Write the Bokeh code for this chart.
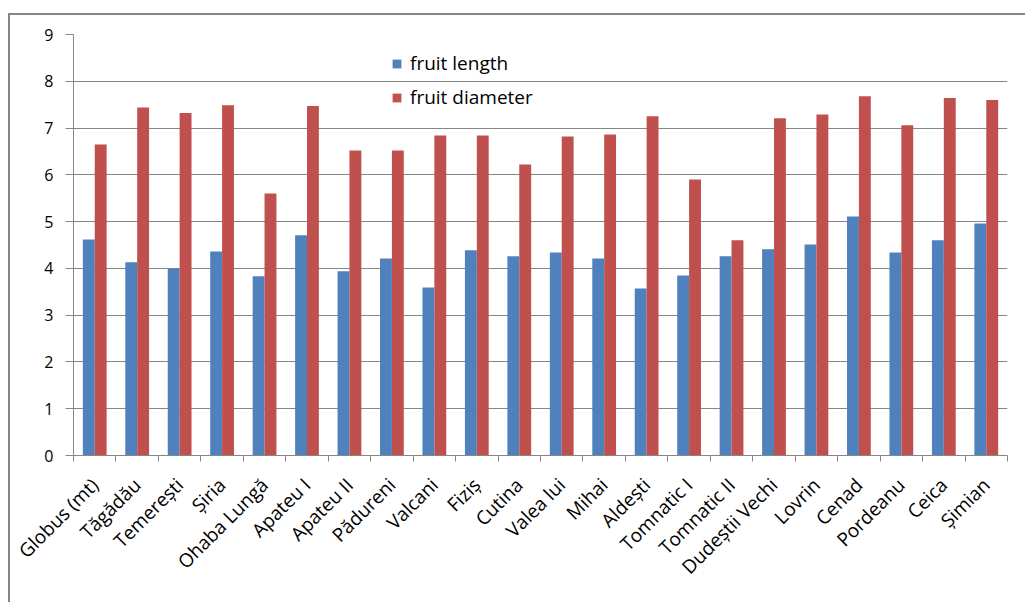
import math
from bokeh.plotting import figure
from bokeh.models import ColumnDataSource, FixedTicker, Range1d, Legend, LegendItem
from bokeh.layouts import column
from bokeh.transform import dodge
from bokeh.embed import file_html
from bokeh.resources import INLINE

sites = ["Globus (mt)", "Tăgădău", "Temerești", "Șiria", "Ohaba Lungă", "Apateu I",
         "Apateu II", "Pădureni", "Valcani", "Fiziș", "Cutina", "Valea lui",
         "Mihai", "Aldești", "Tomnatic I", "Tomnatic II", "Dudeștii Vechi",
         "Lovrin", "Cenad", "Pordeanu", "Ceica", "Șimian"]
fruit_length = [4.62, 4.13, 3.99, 4.36, 3.83, 4.71, 3.94, 4.21, 3.59, 4.39, 4.26,
                4.34, 4.21, 3.57, 3.85, 4.26, 4.41, 4.51, 5.11, 4.34, 4.60, 4.96]
fruit_diameter = [6.65, 7.44, 7.32, 7.49, 5.60, 7.47, 6.52, 6.52, 6.84, 6.84, 6.22,
                  6.82, 6.86, 7.25, 5.90, 4.60, 7.21, 7.29, 7.68, 7.06, 7.64, 7.60]
y_ticks = [0, 1, 2, 3, 4, 5, 6, 7, 8, 9]

FONT = "Open Sans"
GREY = "#868686"
n = len(sites)
centers = [i + 0.5 for i in range(n)]
boundaries = list(range(n + 1))

src = ColumnDataSource(dict(x=centers, site=sites, length=fruit_length, diameter=fruit_diameter))

p = figure(width=1015, height=587, x_range=Range1d(0, n), y_range=Range1d(0, 9),
           output_backend="svg", toolbar_location=None,
           min_border_left=63, min_border_top=19, min_border_right=18, min_border_bottom=147)
p.outline_line_color = None
p.background_fill_color = "white"
p.border_fill_color = "white"

bw = 0.28
r1 = p.vbar(x=dodge("x", -bw / 2, range=p.x_range), top="length", width=bw, bottom=0,
            source=src, fill_color="#4F81BD", line_color=None)
r2 = p.vbar(x=dodge("x", bw / 2, range=p.x_range), top="diameter", width=bw, bottom=0,
            source=src, fill_color="#C0504D", line_color=None)

p.xgrid.visible = False
p.ygrid.ticker = FixedTicker(ticks=y_ticks)
p.ygrid.grid_line_color = GREY
p.ygrid.grid_line_width = 1

ya = p.yaxis[0]
ya.ticker = FixedTicker(ticks=y_ticks)
ya.axis_line_color = GREY
ya.major_tick_line_color = GREY
ya.major_tick_out = 8
ya.major_tick_in = 0
ya.minor_tick_out = 0
ya.minor_tick_in = 0
ya.major_label_standoff = 12
ya.major_label_text_font = FONT
ya.major_label_text_font_size = "16px"
ya.major_label_text_color = "#000000"

xa = p.xaxis[0]
xa.ticker = FixedTicker(ticks=centers, minor_ticks=boundaries)
xa.axis_line_color = GREY
xa.major_tick_out = 0
xa.major_tick_in = 0
xa.minor_tick_out = 6
xa.minor_tick_in = 0
xa.minor_tick_line_color = GREY
xa.major_label_overrides = {c: s for c, s in zip(centers, sites)}
xa.major_label_orientation = math.pi / 4
xa.major_label_standoff = 20
xa.major_label_text_font = FONT
xa.major_label_text_font_size = "19px"
xa.major_label_text_color = "#000000"

legend = Legend(items=[LegendItem(label="fruit length", renderers=[r1]),
                       LegendItem(label="fruit diameter", renderers=[r2])],
                location=(318, 345), orientation="vertical")
legend.background_fill_alpha = 0
legend.border_line_alpha = 0
legend.padding = 0
legend.margin = 0
legend.spacing = 8
legend.glyph_width = 11
legend.glyph_height = 11
legend.label_height = 26
legend.label_standoff = 8
legend.label_text_font = FONT
legend.label_text_font_size = "19px"
legend.label_text_color = "#000000"
p.add_layout(legend)

layout = column(p, styles={"border-top": "2px solid #868686", "border-left": "2px solid #868686"},
                margin=(13, 0, 0, 8))

open("out.html", "w").write(file_html(layout, INLINE))
